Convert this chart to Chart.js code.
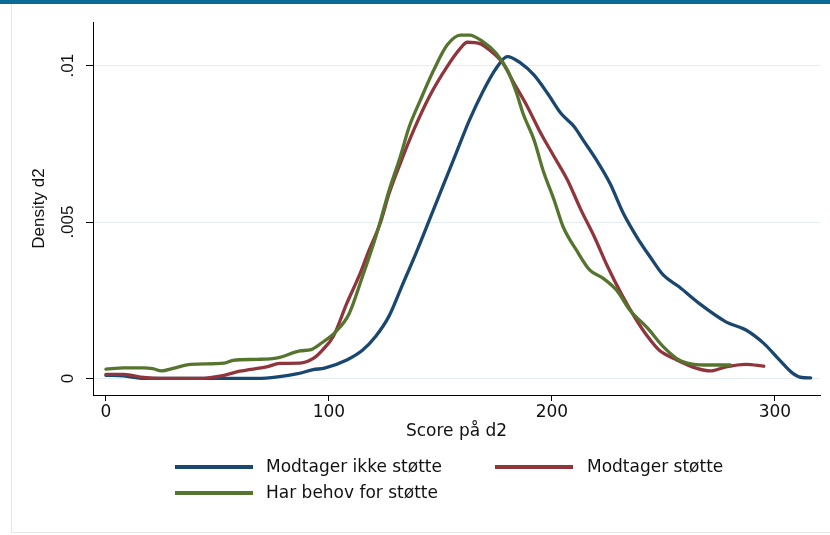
<!DOCTYPE html>
<html>
<head>
<meta charset="utf-8">
<script src="https://cdn.jsdelivr.net/npm/chart.js@4.4.1/dist/chart.umd.min.js"></script>
<style>
  html, body { margin: 0; padding: 0; background: #fff; }
  #wrap { position: relative; width: 830px; height: 535px; overflow: hidden; background: #fff; }
  #topbar { position: absolute; left: 0; top: 0; width: 830px; height: 4px; background: #0b6a93; }
  #frame { position: absolute; left: 11px; top: 4px; width: 819px; height: 529px; border-left: 1px solid #e6e6e6; border-bottom: 1px solid #e6e6e6; box-sizing: border-box; }
  canvas { position: absolute; left: 0; top: 0; }
  .lg { position: absolute; font-family: "DejaVu Sans", sans-serif; font-size: 17px; color: #111; white-space: nowrap; line-height: 20px; }
  .sw { position: absolute; height: 4px; width: 78px; }
</style>
</head>
<body>
<div id="wrap">
  <div id="topbar"></div>
  <div id="frame"></div>
  <canvas id="c" width="830" height="535"></canvas>
  <div class="sw" style="left:175px; top:465px; background:#1a476f"></div>
  <div class="lg" style="left:266px; top:456px;">Modtager ikke støtte</div>
  <div class="sw" style="left:495px; top:465px; background:#90353b"></div>
  <div class="lg" style="left:587px; top:456px;">Modtager støtte</div>
  <div class="sw" style="left:175px; top:491px; background:#55752f"></div>
  <div class="lg" style="left:266px; top:482px;">Har behov for støtte</div>
</div>
<script>
// ---- data ----
const seriesNames = ['Modtager ikke støtte', 'Modtager støtte', 'Har behov for støtte'];

const blueX = [0, 8, 17, 30, 50, 68, 77, 86, 93, 98, 108, 115, 121, 127, 133, 139, 145, 151, 157, 163, 169, 175, 180, 186, 192, 198, 204, 210, 214, 220, 226, 232, 238, 244, 250, 257, 266, 278, 287, 295, 302, 308, 312, 316];
const blueY = [0.0001, 0.00008, 0, 0, 0, 0, 0.00005, 0.00015, 0.00028, 0.00033, 0.00059, 0.0009, 0.00135, 0.002, 0.003, 0.004, 0.00506, 0.00613, 0.0072, 0.00826, 0.00917, 0.00992, 0.01029, 0.01008, 0.0097, 0.00912, 0.00848, 0.00805, 0.00762, 0.00698, 0.00624, 0.00528, 0.00453, 0.00389, 0.0033, 0.00293, 0.0024, 0.00181, 0.00155, 0.00112, 0.00059, 0.00016, 0.00003, 0.00002];

const redX = [0, 8, 17, 24, 42, 53, 60, 72, 78, 87, 93, 97, 102, 108, 114, 118, 123, 127, 132, 138, 145, 153, 159, 162, 168, 172, 178, 183, 189, 195, 201, 207, 213, 219, 225, 231, 237, 243, 248, 256, 265, 271, 278, 287, 295];
const redY = [0.00013, 0.00013, 0.00003, 0, 0, 0.0001, 0.00023, 0.00037, 0.00048, 0.00049, 0.00064, 0.0009, 0.00135, 0.0024, 0.00336, 0.0041, 0.00496, 0.00592, 0.00688, 0.00794, 0.00901, 0.00997, 0.01056, 0.01075, 0.0107, 0.0105, 0.01008, 0.00944, 0.00869, 0.00784, 0.00709, 0.00634, 0.00539, 0.00453, 0.00357, 0.00272, 0.00197, 0.00133, 0.00091, 0.00059, 0.00032, 0.00024, 0.00037, 0.00045, 0.00039];

const greenX = [0, 8, 17, 21, 25, 30, 38, 53, 57, 68, 77, 87, 92, 97, 103, 109, 115, 121, 127, 132, 136, 141, 147, 153, 159, 163, 169, 175, 180, 184, 187, 192, 196, 201, 205, 211, 217, 223, 229, 235, 243, 250, 257, 263, 271, 280];
const greenY = [0.0003, 0.00034, 0.00034, 0.00031, 0.00024, 0.00032, 0.00045, 0.00049, 0.00058, 0.00061, 0.00066, 0.00088, 0.00092, 0.00115, 0.00149, 0.00206, 0.00325, 0.00453, 0.00602, 0.00709, 0.00805, 0.0089, 0.00986, 0.01066, 0.01098, 0.01098, 0.01077, 0.0104, 0.00986, 0.00915, 0.00848, 0.00762, 0.00666, 0.0057, 0.00485, 0.0041, 0.00346, 0.0032, 0.00282, 0.00218, 0.0016, 0.00101, 0.00059, 0.00046, 0.00043, 0.00043];

const xTicks = [0, 100, 200, 300];
const xTickLabels = ['0', '100', '200', '300'];
const yTicks = [0, 0.005, 0.01];
const yTickLabels = ['0', '.005', '.01'];
const xTitle = 'Score på d2';
const yTitle = 'Density d2';

function pts(xs, ys) { return xs.map((x, i) => ({ x: x, y: ys[i] })); }

const hFont = { family: 'DejaVu Sans', size: 17 };
const vFont = { family: 'Liberation Sans', size: 17 };

const yLabelPlugin = {
  id: 'yLabels',
  afterDraw(chart) {
    const ctx = chart.ctx;
    const ys = chart.scales.y;
    ctx.save();
    ctx.font = '17px "Liberation Sans"';
    ctx.fillStyle = '#111';
    ctx.textAlign = 'center';
    ctx.textBaseline = 'alphabetic';
    yTicks.forEach((v, i) => {
      const py = ys.getPixelForValue(v);
      ctx.save();
      ctx.translate(73, py);
      ctx.rotate(-Math.PI / 2);
      ctx.fillText(yTickLabels[i], 0, 0);
      ctx.restore();
    });
    ctx.restore();
  }
};

new Chart(document.getElementById('c'), {
  type: 'line',
  data: {
    datasets: [
      { label: seriesNames[0], data: pts(blueX, blueY), borderColor: '#1a476f', order: 2 },
      { label: seriesNames[1], data: pts(redX, redY), borderColor: '#90353b', order: 1 },
      { label: seriesNames[2], data: pts(greenX, greenY), borderColor: '#55752f', order: 0 }
    ].map(d => Object.assign(d, {
      borderWidth: 3.3, pointRadius: 0, fill: false,
      cubicInterpolationMode: 'monotone', borderCapStyle: 'round', borderJoinStyle: 'round'
    }))
  },
  options: {
    responsive: false,
    animation: false,
    devicePixelRatio: 1,
    layout: { padding: { left: 0, top: 22, right: 10, bottom: 80 } },
    plugins: { legend: { display: false }, tooltip: { enabled: false } },
    scales: {
      x: {
        type: 'linear',
        min: -5.8,
        max: 320.2,
        afterBuildTicks: s => { s.ticks = xTicks.map(v => ({ value: v })); },
        afterFit: s => { s.height = 60; },
        grid: { drawOnChartArea: false, color: '#000', tickColor: '#000', tickLength: 6, lineWidth: 1 },
        border: { color: '#000', width: 1 },
        ticks: {
          font: hFont, color: '#111', padding: 1, maxRotation: 0, autoSkip: false,
          callback: (v) => xTickLabels[xTicks.indexOf(v)]
        },
        title: { display: true, text: xTitle, font: hFont, color: '#111', padding: { top: 0, bottom: 13 } }
      },
      y: {
        type: 'linear',
        min: -0.00053,
        max: 0.011398,
        afterBuildTicks: s => { s.ticks = yTicks.map(v => ({ value: v })); },
        afterFit: s => { s.width = 93; },
        grid: { color: '#e4eef1', tickColor: '#000', tickLength: 7, lineWidth: 1 },
        border: { color: '#000', width: 1 },
        ticks: { display: false },
        title: { display: true, text: yTitle, font: vFont, color: '#111', padding: { top: 29, bottom: 0 } }
      }
    }
  },
  plugins: [yLabelPlugin]
});
</script>
</body>
</html>
